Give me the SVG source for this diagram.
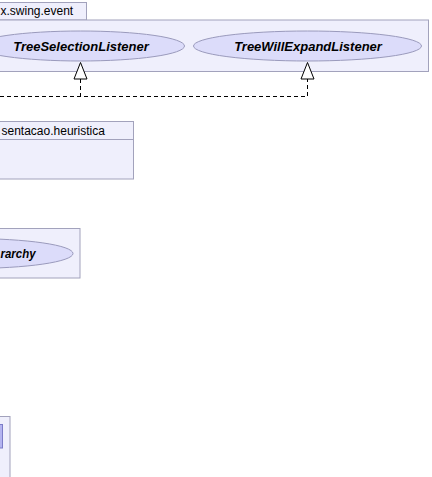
<svg xmlns="http://www.w3.org/2000/svg" width="432" height="477" viewBox="0 0 432 477">
<style>
.pkg{fill:#efeffc;stroke:#a2a2bc;stroke-width:1}
.uc{fill:#dcdcfa;stroke:#9a9abc;stroke-width:1}
.pl{font-family:"Liberation Sans",Arial,sans-serif;font-size:12px;fill:#000}
.ul{font-family:"Liberation Sans",Arial,sans-serif;font-size:13px;font-weight:bold;font-style:italic;fill:#000;text-anchor:middle}
.dash{fill:none;stroke:#000;stroke-width:1;stroke-dasharray:4,3}
.tri{fill:#fff;stroke:#000;stroke-width:1}
</style>
<rect width="432" height="477" fill="#fff"/>
<g id="pkg-swing-event">
<rect class="pkg" x="-1.5" y="2.5" width="88" height="17.5"/>
<rect class="pkg" x="-1.5" y="20" width="430" height="51.5"/>
<text class="pl" x="0.5" y="15">x.swing.event</text>
</g>
<g id="TreeSelectionListener">
<ellipse class="uc" cx="80.5" cy="46" rx="104" ry="15"/>
<text class="ul" x="81" y="50.5">TreeSelectionListener</text>
</g>
<g id="TreeWillExpandListener">
<ellipse class="uc" cx="307.5" cy="46" rx="114" ry="15"/>
<text class="ul" x="308" y="50.5">TreeWillExpandListener</text>
</g>
<g id="pkg-heuristica">
<rect class="pkg" x="-1.5" y="121.5" width="135" height="57.5"/>
<line x1="-1.5" y1="139.5" x2="133.5" y2="139.5" stroke="#a2a2bc"/>
<text class="pl" x="1.5" y="135">sentacao.heuristica</text>
</g>
<g id="pkg-hierarchy">
<rect class="pkg" x="-1.5" y="228.5" width="81.5" height="49.5"/>
<ellipse class="uc" cx="-30" cy="253.5" rx="103" ry="15"/>
<text class="ul" x="0.5" y="258" style="text-anchor:start" textLength="35" lengthAdjust="spacingAndGlyphs">rarchy</text>
</g>
<g id="pkg-bottom">
<rect class="pkg" x="-1.5" y="416.5" width="11.5" height="70"/>
<rect x="-1.5" y="424.5" width="4" height="23.5" fill="#b4b4f0" stroke="#7c7cc8"/>
</g>
<g id="connectors">
<path class="dash" d="M80.5,79 V96.5 M0,96.5 H307.5 V79"/>
<polygon class="tri" points="80.5,62.5 74,79 87,79"/>
<polygon class="tri" points="307.5,62.5 301,79 314,79"/>
</g>
</svg>
